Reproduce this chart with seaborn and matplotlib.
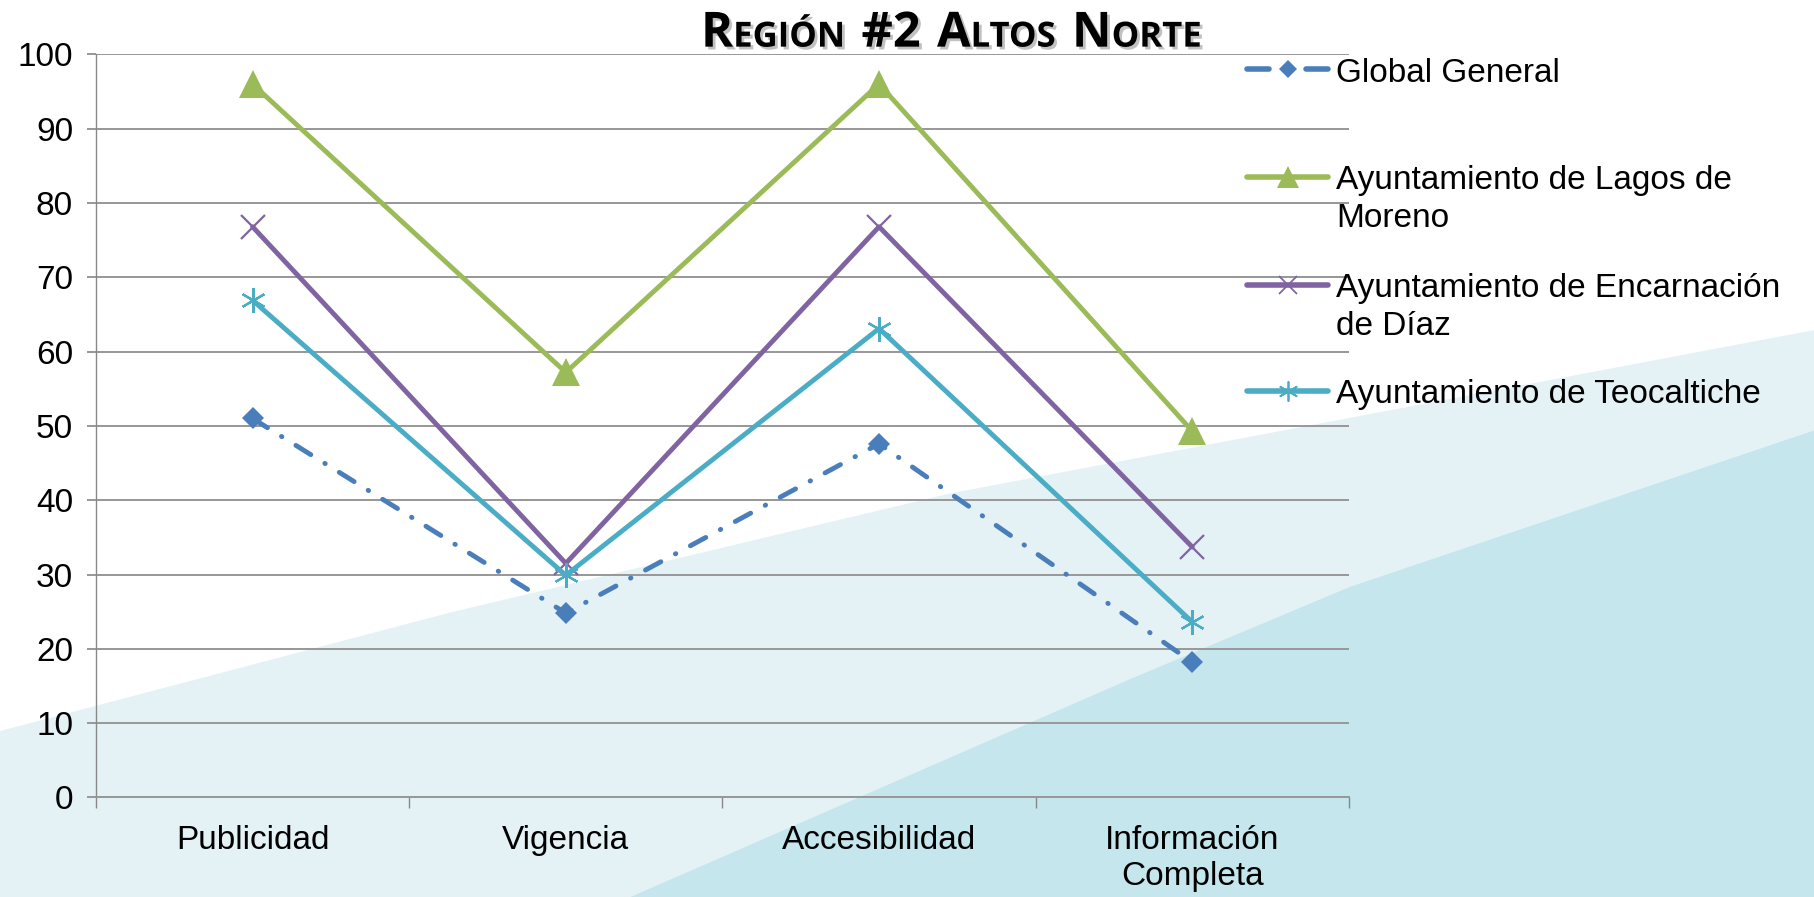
import matplotlib
matplotlib.use("Agg")
import matplotlib.pyplot as plt
import matplotlib.patheffects as pe
from matplotlib.lines import Line2D
from matplotlib.patches import Polygon
from matplotlib.ticker import FixedLocator
import seaborn as sns

# data
categories = ["Publicidad", "Vigencia", "Accesibilidad", "Información\nCompleta"]
global_general = [51.0, 24.8, 47.6, 18.2]
lagos_de_moreno = [96.0, 57.2, 96.0, 49.3]
encarnacion_de_diaz = [76.8, 31.5, 76.8, 33.7]
teocaltiche = [66.9, 29.9, 63.1, 23.6]
series_labels = ["Global General",
                 "Ayuntamiento de Lagos de\nMoreno",
                 "Ayuntamiento de Encarnación\nde Díaz",
                 "Ayuntamiento de Teocaltiche"]
y_ticks = list(range(0, 101, 10))

sns.set_style("white")
plt.rcParams["font.family"] = ["Liberation Sans", "DejaVu Sans"]
plt.rcParams["text.color"] = "black"
plt.rcParams["xtick.color"] = "black"
plt.rcParams["ytick.color"] = "black"

fig = plt.figure(figsize=(18.14, 8.97), dpi=100)
fig.patch.set_facecolor("white")

# decorative background bands
fig.add_artist(Polygon([(0, 0), (0, 0.185), (0.248, 0.317), (0.524, 0.450), (1, 0.632), (1, 0)],
                       closed=True, transform=fig.transFigure, facecolor="#e4f2f6",
                       edgecolor="none", zorder=0))
fig.add_artist(Polygon([(0.3476, 0), (0.6212, 0.2413), (0.7443, 0.3458), (1, 0.52), (1, 0)],
                       closed=True, transform=fig.transFigure, facecolor="#c4e6ec",
                       edgecolor="none", zorder=0))

ax = fig.add_axes([0.0529, 0.111, 0.6907, 0.8284])
ax.set_facecolor("none")

styles = [
    dict(data=global_general, color="#4a7ebb", marker="D", ms=11.5, mew=0,
         ls=(0, (3.6, 3.4, 0.1, 3.4))),
    dict(data=lagos_de_moreno, color="#9bbb59", marker="^", ms=20, mew=0, ls="-"),
    dict(data=encarnacion_de_diaz, color="#8064a2", marker="x", ms=17, mew=1.6, ls="-"),
    dict(data=teocaltiche, color="#4bacc6", marker=(6, 2, 0), ms=18, mew=1.6, ls="-"),
]
for s in styles:
    sns.lineplot(x=categories, y=s["data"], ax=ax, sort=False, color=s["color"],
                 marker=s["marker"], markersize=s["ms"], markeredgewidth=s["mew"],
                 markeredgecolor=s["color"], linestyle=s["ls"], linewidth=3.5,
                 dash_capstyle="round", solid_capstyle="round", zorder=3)

ax.set_xlim(-0.5, 3.5)
ax.set_ylim(0, 100)
ax.set_yticks(y_ticks)
ax.yaxis.grid(True, color="#979797", linewidth=1.4)
ax.set_axisbelow(True)
ax.xaxis.set_minor_locator(FixedLocator([-0.5, 0.5, 1.5, 2.5, 3.5]))
ax.tick_params(axis="x", which="both", bottom=True)
ax.tick_params(axis="y", which="both", left=True)
ax.tick_params(axis="x", which="major", length=0, pad=20, labelsize=24)
ax.tick_params(axis="x", which="minor", length=8, width=1, color="#888888", direction="out")
ax.tick_params(axis="y", length=6.5, width=1.4, color="#979797", direction="out", pad=10, labelsize=24)
for side in ["top", "right"]:
    ax.spines[side].set_visible(False)
ax.spines["left"].set_color("#888888")
ax.spines["left"].set_linewidth(1)
ax.spines["bottom"].set_color("#979797")
ax.spines["bottom"].set_linewidth(1.4)
ax.set_xlabel("")
ax.set_ylabel("")

# legend built by hand so the handle sits on the first text line
leg_x0, leg_x1, leg_tx = 0.6875, 0.7321, 0.7366
rows_y = [0.9226, 0.8026, 0.6826, 0.5639]
line_step = 0.0426
cap_half = 0.0135
for s, lab, y in zip(styles, series_labels, rows_y):
    xm = (leg_x0 + leg_x1) / 2
    if s["ls"] == "-":
        fig.add_artist(Line2D([leg_x0, leg_x1], [y, y], transform=fig.transFigure,
                              color=s["color"], linewidth=4, solid_capstyle="round"))
    else:
        fig.add_artist(Line2D([leg_x0, leg_x0 + 0.012, float("nan"), leg_x1 - 0.012, leg_x1],
                              [y, y, y, y, y], transform=fig.transFigure,
                              color=s["color"], linewidth=4, solid_capstyle="round"))
    fig.add_artist(Line2D([xm], [y], transform=fig.transFigure, linestyle="none",
                          marker=s["marker"], markersize=s["ms"] * 0.8,
                          markeredgewidth=s["mew"] * 0.8, color=s["color"],
                          markeredgecolor=s["color"]))
    for i, part in enumerate(lab.split("\n")):
        fig.text(leg_tx, y - cap_half - i * line_step, part, fontsize=24,
                 va="baseline", ha="left", color="black")

# small caps title
parts = [("R", 35), ("EGIÓN", 25), (" ", 35), ("#2", 35), (" ", 35), ("A", 35), ("LTOS", 25),
         (" ", 35), ("N", 35), ("ORTE", 25)]
renderer = fig.canvas.get_renderer()
shadow = [pe.withSimplePatchShadow(offset=(2, -2), shadow_rgbFace="#777777", alpha=0.45)]
pieces = []
cur = 0.0
for txt, size in parts:
    t = fig.text(cur, 0.948, txt.replace(" ", "\u00a0"), fontsize=size, fontweight="bold",
                 family=["Open Sans", "DejaVu Sans"], va="baseline", ha="left",
                 color="black", path_effects=shadow)
    w = t.get_window_extent(renderer=renderer).width / fig.bbox.width
    if txt == " ":
        w = 0.009
    pieces.append((t, cur))
    cur += w
start = 0.5245 - cur / 2
for t, off in pieces:
    t.set_x(start + off)

fig.savefig("out.png", dpi=100)
